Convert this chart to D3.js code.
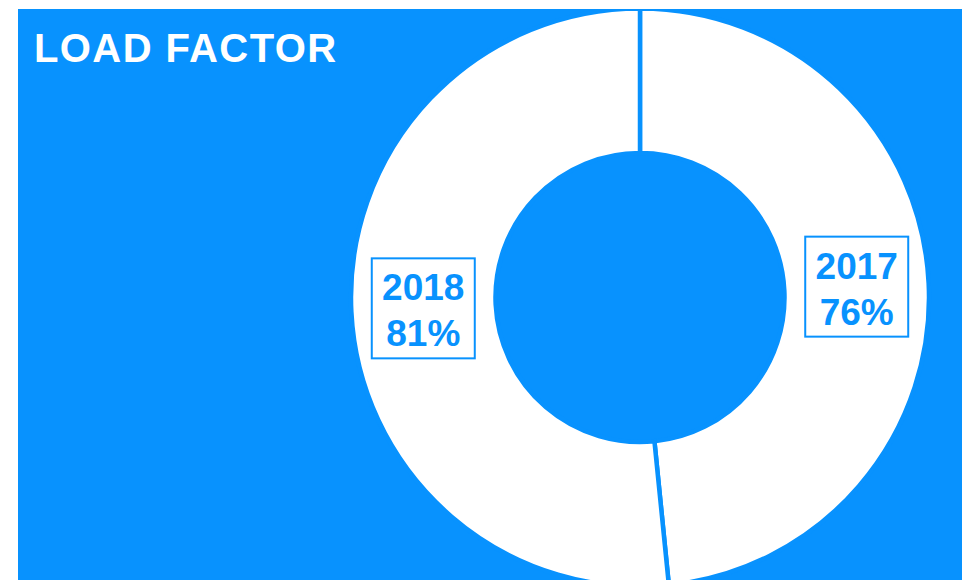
<!DOCTYPE html>
<html>
<head>
<meta charset="utf-8">
<script src="https://cdn.jsdelivr.net/npm/d3@7"></script>
<style>
	body { margin: 0; background: #fff; }
	svg { display: block; }
	text { font-family: 'Liberation Sans', Arial, sans-serif; font-weight: bold; }
</style>
</head>
<body>
<svg id="chart"></svg>
<script>

var w = 962;
var h = 580;
var blue = '#0892fe';

var years = ['2017', '2018'];
var load_factor = [76, 81];
var title = 'LOAD FACTOR';

var svg = d3.select('#chart')
	.attr('width', w)
	.attr('height', h);

svg.append('clipPath')
	.attr('id', 'panel_clip')
	.append('rect')
	.attr('x', 18)
	.attr('y', 9)
	.attr('width', w - 18)
	.attr('height', h - 9);

svg.append('rect')
	.attr('x', 18)
	.attr('y', 9)
	.attr('width', w - 18)
	.attr('height', h - 9)
	.attr('fill', blue);

svg.append('text')
	.attr('x', 34)
	.attr('y', 62)
	.attr('fill', '#fff')
	.style('font-size', '40px')
	.style('letter-spacing', '1.4px')
	.text(title);

var cx = 640, cy = 297.5;
var r_out = 289, r_in = 144.5;

var pie = d3.pie().sort(null).value(function(d) { return d; });
var arc = d3.arc().innerRadius(r_in).outerRadius(r_out);

var g = svg.append('g')
	.attr('clip-path', 'url(#panel_clip)')
	.append('g')
	.attr('transform', 'translate(' + cx + ',' + cy + ')');

var slices = g.selectAll('.slice')
	.data(pie(load_factor))
	.enter()
	.append('g')
	.attr('class', 'slice');

slices.append('path')
	.attr('d', arc)
	.attr('fill', '#fff')
	.attr('stroke', blue)
	.attr('stroke-width', 4.5);

// labels with a boxed frame at the slice centroid
slices.each(function(d, i) {
	var c = d3.arc().innerRadius(147).outerRadius(287).centroid(d);
	var lbl = d3.select(this).append('g')
		.attr('transform', 'translate(' + c[0] + ',' + c[1] + ')');

	var txt = lbl.append('text')
		.attr('text-anchor', 'middle')
		.attr('fill', blue)
		.style('font-size', '37px');

	txt.append('tspan').attr('x', 0).attr('y', -8).text(years[i]);
	txt.append('tspan').attr('x', 0).attr('y', 38).text(load_factor[i] + '%');

	var bw = 103, bh = 100;
	lbl.insert('rect', 'text')
		.attr('x', -bw / 2)
		.attr('y', -bh / 2)
		.attr('width', bw)
		.attr('height', bh)
		.attr('fill', 'none')
		.attr('stroke', blue)
		.attr('stroke-width', 2);
});

</script>
</body>
</html>
